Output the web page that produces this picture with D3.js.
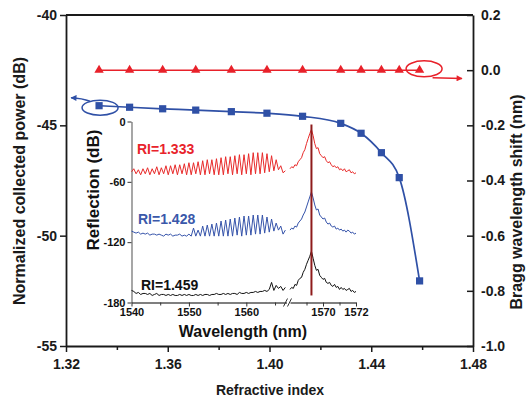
<!DOCTYPE html>
<html><head><meta charset="utf-8">
<script src="https://cdn.jsdelivr.net/npm/d3@7"></script>
<style>
body{margin:0;background:#fff}
svg text{font-family:"Liberation Sans",Arial,sans-serif;font-weight:bold}
</style>
</head><body>
<svg id="chart" width="527" height="398"></svg>
<script>
// ---------- main chart data ----------
const refractiveIndex = [1.333,1.345,1.358,1.371,1.385,1.399,1.413,1.428,1.436,1.444,1.451,1.459];
const collectedPower = [-44.11,-44.18,-44.25,-44.31,-44.38,-44.45,-44.59,-44.91,-45.36,-46.24,-47.37,-52.05];
const braggShift = [0,0,0,0,0,0,0,0,0,0,0,0];
const xTickValues = [1.32,1.36,1.40,1.44,1.48];
const xMinorTicks = [1.34,1.38,1.42,1.46];
const leftTickValues = [-40,-45,-50,-55];
const rightTickValues = [0.2,0.0,-0.2,-0.4,-0.6,-0.8,-1.0];

// ---------- inset data ----------
const wlA = [1540.0,1540.4,1540.8,1541.2,1541.6,1542.0,1542.4,1542.8,1543.2,1543.6,1544.0,1544.4,1544.8,1545.2,1545.6,1546.0,1546.4,1546.8,1547.2,1547.6,1548.0,1548.4,1548.8,1549.2,1549.6,1550.0,1550.4,1550.8,1551.2,1551.6,1552.0,1552.4,1552.8,1553.2,1553.6,1554.0,1554.4,1554.8,1555.2,1555.6,1556.0,1556.4,1556.8,1557.2,1557.6,1558.0,1558.4,1558.8,1559.2,1559.6,1560.0,1560.4,1560.8,1561.2,1561.6,1562.0,1562.4,1562.8,1563.2,1563.6,1564.0,1564.4,1564.8,1565.2,1565.6,1566.0,1566.4,1566.8];
const redA = [-50,-47,-52,-48,-53,-47,-52,-46,-53,-47,-52,-45,-53,-46,-52,-44,-53,-44,-52,-43,-53,-43,-52,-42,-53,-41,-53,-41,-52,-40,-53,-39,-53,-38,-52,-38,-53,-37,-53,-36,-53,-35,-52,-35,-53,-34,-52,-33,-53,-33,-52,-32,-53,-31,-52,-31,-52,-31,-51,-32,-50,-34,-49,-38,-48,-44,-51,-49];
const blueA = [-109,-110,-111,-110,-112,-111,-112,-111,-113,-112,-112,-113,-112,-113,-114,-112,-113,-112,-114,-113,-113,-112,-114,-113,-114,-112,-114,-106,-114,-108,-114,-104,-114,-103,-114,-102,-114,-101,-114,-99,-114,-98,-114,-97,-114,-96,-113,-95,-114,-94,-113,-94,-113,-93,-112,-93,-112,-93,-111,-95,-110,-97,-109,-101,-108,-104,-112,-108];
const blackA = [-168,-169,-171,-170,-172,-171,-171,-172,-171,-173,-172,-171,-173,-172,-172,-173,-172,-173,-172,-173,-173,-172,-173,-172,-173,-172,-173,-173,-172,-173,-172,-173,-172,-172,-173,-172,-172,-171,-172,-172,-171,-172,-171,-172,-171,-171,-172,-170,-171,-171,-170,-171,-170,-170,-169,-170,-169,-169,-168,-169,-167,-160,-168,-163,-166,-164,-168,-165];
const wlB = [1568.0,1568.1,1568.2,1568.3,1568.4,1568.5,1568.6,1568.7,1568.8,1568.9,1569.0,1569.1,1569.2,1569.3,1569.4,1569.5,1569.6,1569.7,1569.8,1569.9,1570.0,1570.1,1570.2,1570.3,1570.4,1570.5,1570.6,1570.7,1570.8,1570.9,1571.0,1571.1,1571.2,1571.3,1571.4,1571.5,1571.6,1571.7,1571.8,1571.9,1572.0];
const redB = [-47,-45,-46,-43,-44,-40,-38,-36,-31,-28,-22,-17,-12,-8,-14,-22,-27,-26,-32,-34,-36,-35,-39,-41,-40,-43,-45,-44,-46,-45,-48,-47,-49,-47,-50,-49,-48,-51,-50,-52,-51];
const blueB = [-108,-106,-107,-104,-105,-101,-99,-97,-93,-90,-85,-80,-75,-70,-76,-83,-88,-87,-93,-95,-97,-96,-100,-102,-101,-104,-105,-104,-107,-106,-108,-107,-109,-108,-110,-108,-109,-111,-110,-112,-111];
const blackB = [-167,-165,-166,-162,-163,-158,-156,-155,-150,-147,-142,-138,-134,-129,-136,-143,-148,-147,-153,-155,-157,-156,-160,-161,-160,-163,-164,-162,-165,-164,-167,-165,-167,-166,-168,-167,-166,-169,-168,-170,-169];
const braggPeak = 1569.3;
const insetYTicks = [0,-60,-120,-180];
const insetXTicksA = [1540,1550,1560];
const insetXTicksB = [1570,1572];
const insetMinorA = [1545,1555,1565];
const insetMinorB = [1569,1571];
const insetLabels = ["RI=1.333","RI=1.428","RI=1.459"];

// ---------- drawing ----------
const RED = "#e8212a", BLUE = "#2f50a6", AX = "#1a1a1a";
const svg = d3.select("#chart");

const x = d3.scaleLinear([1.32,1.48],[66,473]);
const yL = d3.scaleLinear([-55,-40],[346,15]);
const yR = d3.scaleLinear([-1.0,0.2],[346,15]);

function styleAxis(g, size){
  g.attr("font-family",null).attr("font-size",null);
  g.selectAll("text").attr("font-size",size).attr("fill",AX);
  g.selectAll("line").attr("stroke",AX).attr("stroke-width",1.5);
  g.select(".domain").attr("stroke",AX).attr("stroke-width",1.8);
}

// top border
svg.append("line").attr("x1",x(1.32)).attr("x2",x(1.48)).attr("y1",yL(-40)).attr("y2",yL(-40))
  .attr("stroke",AX).attr("stroke-width",1.8);

const gx = svg.append("g").attr("transform",`translate(0,${yL(-55)})`)
  .call(d3.axisBottom(x).tickValues(xTickValues).tickFormat(d=>d.toFixed(2)).tickSizeInner(6).tickSizeOuter(0).tickPadding(7));
styleAxis(gx,14);
const gxm = svg.append("g").attr("transform",`translate(0,${yL(-55)})`)
  .call(d3.axisBottom(x).tickValues(xMinorTicks).tickFormat("").tickSizeInner(4).tickSizeOuter(0));
styleAxis(gxm,14); gxm.select(".domain").remove();

const gl = svg.append("g").attr("transform",`translate(${x(1.32)},0)`)
  .call(d3.axisLeft(yL).tickValues(leftTickValues).tickFormat(d=>String(d)).tickSizeInner(6).tickSizeOuter(0).tickPadding(3));
styleAxis(gl,14);

const gr = svg.append("g").attr("transform",`translate(${x(1.48)},0)`)
  .call(d3.axisRight(yR).tickValues(rightTickValues).tickFormat(d=>d.toFixed(1)).tickSizeInner(-6).tickSizeOuter(0).tickPadding(8));
styleAxis(gr,14);

// axis titles
svg.append("text").attr("x",270).attr("y",395).attr("text-anchor","middle").attr("font-size",14).attr("fill",AX).text("Refractive index");
svg.append("text").attr("transform","translate(25,181) rotate(-90)").attr("text-anchor","middle").attr("font-size",16).attr("fill",AX).text("Normalized collected power (dB)");
svg.append("text").attr("transform","translate(522,202) rotate(-90)").attr("text-anchor","middle").attr("font-size",16).attr("fill",AX).text("Bragg wavelength shift (nm)");

// ---------- inset ----------
const yI = d3.scaleLinear([-180,0],[302.5,121.5]);
const xA = d3.scaleLinear([1540,1567],[131.5,286.5]);
const xB = d3.scaleLinear([1568,1572],[290,356]);
const IAX = "#333";

const giy = svg.append("g").attr("transform",`translate(131.5,0)`)
  .call(d3.axisLeft(yI).tickValues(insetYTicks).tickFormat(d=>String(d)).tickSizeInner(4).tickSizeOuter(0).tickPadding(2));
giy.attr("font-family",null).attr("font-size",null);
giy.selectAll("text").attr("font-size",11).attr("fill","#111");
giy.selectAll("line").attr("stroke",IAX).attr("stroke-width",1);
giy.select(".domain").attr("stroke","#777").attr("stroke-width",1.3);

function insetX(scale, major, minor){
  const g = svg.append("g").attr("transform",`translate(0,302.5)`)
    .call(d3.axisBottom(scale).tickValues(major).tickFormat(d=>String(d)).tickSizeInner(4).tickSizeOuter(0).tickPadding(2));
  g.attr("font-family",null).attr("font-size",null);
  g.selectAll("text").attr("font-size",11).attr("fill","#111");
  g.selectAll("line").attr("stroke",IAX).attr("stroke-width",1);
  g.select(".domain").attr("stroke","#555").attr("stroke-width",1.3);
  const gm = svg.append("g").attr("transform",`translate(0,302.5)`)
    .call(d3.axisBottom(scale).tickValues(minor).tickFormat("").tickSizeInner(3).tickSizeOuter(0));
  gm.select(".domain").remove();
  gm.selectAll("line").attr("stroke",IAX).attr("stroke-width",1);
}
insetX(xA, insetXTicksA, insetMinorA);
insetX(xB, insetXTicksB, insetMinorB);
// break marks
[285.5,289.5].forEach(bx=>{
  svg.append("line").attr("x1",bx-2).attr("y1",306.5).attr("x2",bx+2).attr("y2",298.5).attr("stroke","#333").attr("stroke-width",1);
});

// spectra
const lineA = d3.line().x(d=>xA(d[0])).y(d=>yI(d[1]));
const lineB = d3.line().x(d=>xB(d[0])).y(d=>yI(d[1]));
const spectra = [[redA,redB,"#e82a2a"],[blueA,blueB,"#3553aa"],[blackA,blackB,"#111"]];
spectra.forEach(([a,b,c])=>{
  svg.append("path").attr("d",lineA(wlA.map((w,i)=>[w,a[i]]))).attr("fill","none").attr("stroke",c).attr("stroke-width",1);
  svg.append("path").attr("d",lineB(wlB.map((w,i)=>[w,b[i]]))).attr("fill","none").attr("stroke",c).attr("stroke-width",1);
});
// Bragg peak vertical line
svg.append("line").attr("x1",xB(braggPeak)).attr("x2",xB(braggPeak)).attr("y1",yI(-3)).attr("y2",yI(-173))
  .attr("stroke","#8e1b1b").attr("stroke-width",2);

// inset labels
const labelPos = [[137,154,"#e8232b"],[138,224,"#3a58aa"],[141,290,"#111"]];
insetLabels.forEach((t,i)=>{
  svg.append("text").attr("x",labelPos[i][0]).attr("y",labelPos[i][1]).attr("font-size",14).attr("fill",labelPos[i][2]).text(t);
});
svg.append("text").attr("x",243).attr("y",337).attr("text-anchor","middle").attr("font-size",16).attr("fill","#111").text("Wavelength (nm)");
svg.append("text").attr("transform","translate(99,190) rotate(-90)").attr("text-anchor","middle").attr("font-size",17).attr("fill","#111").text("Reflection (dB)");

// ---------- main series ----------
const pts = refractiveIndex.map((r,i)=>({r,p:collectedPower[i],s:braggShift[i]}));
svg.append("path").attr("d",d3.line().x(d=>x(d.r)).y(d=>yR(d.s))(pts)).attr("fill","none").attr("stroke",RED).attr("stroke-width",1.5);
svg.selectAll(".tri").data(pts).join("path").attr("transform",d=>`translate(${x(d.r)},${yR(d.s)})`)
  .attr("d",d3.symbol(d3.symbolTriangle,38)).attr("fill",RED);

svg.append("path").attr("d",d3.line().curve(d3.curveMonotoneX).x(d=>x(d.r)).y(d=>yL(d.p))(pts)).attr("fill","none").attr("stroke",BLUE).attr("stroke-width",1.7);
svg.selectAll(".sq").data(pts).join("path").attr("transform",d=>`translate(${x(d.r)},${yL(d.p)})`)
  .attr("d",d3.symbol(d3.symbolSquare,52)).attr("fill",BLUE);

// annotations: ellipses + arrows
const defs = svg.append("defs");
[["ahB",BLUE],["ahR",RED]].forEach(([id,c])=>{
  defs.append("marker").attr("id",id).attr("viewBox","0 0 10 10").attr("refX",9).attr("refY",5)
    .attr("markerWidth",7).attr("markerHeight",6).attr("markerUnits","userSpaceOnUse").attr("orient","auto")
    .append("path").attr("d","M0,0L10,5L0,10Z").attr("fill",c);
});
const p0 = pts[0], pN = pts[pts.length-1];
const bx = x(p0.r), by = yL(p0.p);
svg.append("ellipse").attr("cx",bx+1).attr("cy",by+2).attr("rx",18).attr("ry",7.5).attr("fill","none").attr("stroke",BLUE).attr("stroke-width",1.5);
svg.append("path").attr("d",`M${bx-9},${by-4.5} Q${bx-17},${by-7.5} ${bx-28},${by-8}`).attr("fill","none").attr("stroke",BLUE).attr("stroke-width",1.5).attr("marker-end","url(#ahB)");
const rx0 = x(pN.r), ry0 = yR(pN.s);
svg.append("ellipse").attr("cx",rx0+4.5).attr("cy",ry0-1.3).attr("rx",18).attr("ry",8).attr("fill","none").attr("stroke",RED).attr("stroke-width",1.5);
svg.append("path").attr("d",`M${rx0+13},${ry0+7.5} L${x(1.48)-11},${ry0+8.3}`).attr("fill","none").attr("stroke",RED).attr("stroke-width",1.5).attr("marker-end","url(#ahR)");
</script>
</body></html>
